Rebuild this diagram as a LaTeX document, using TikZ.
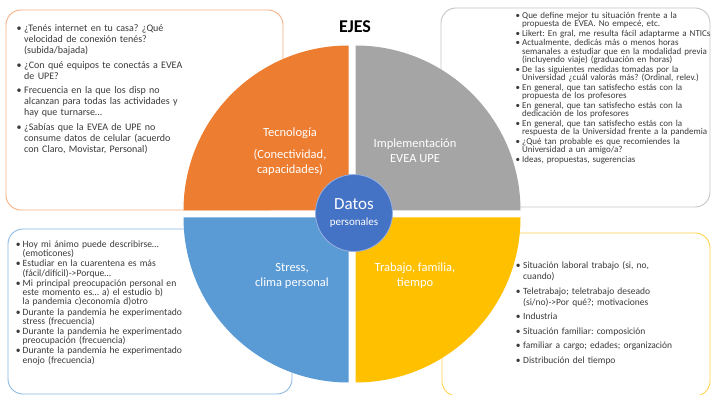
\documentclass[tikz,border=0pt]{standalone}
\usepackage{fontspec}
\setmainfont{Carlito}
\usepackage{enumitem}
\usepackage{tikz}

\definecolor{ejeorange}{HTML}{ED7D31}
\definecolor{ejegray}{HTML}{A5A5A5}
\definecolor{ejeblue}{HTML}{5B9BD5}
\definecolor{ejeyellow}{HTML}{FFC000}
\definecolor{datosblue}{HTML}{4472C4}
\definecolor{textgray}{HTML}{3A3A3A}

\setlist[itemize]{leftmargin=6pt, labelsep=2.5pt, topsep=0pt, partopsep=0pt, parsep=0pt, label={\textbullet}}

\begin{document}
\frenchspacing
\begin{tikzpicture}[x=1pt, y=1pt,
    caja/.style={rounded corners=15pt, line width=0.9pt, fill=white},
    eje/.style={text=white, align=center, inner sep=0pt},
    lista/.style={anchor=north west, inner sep=0pt, text=textgray, text width=#1},
    lista/.default=220pt]

\useasboundingbox (0,0) rectangle (711,-395);

% =========================
% Question boxes
% =========================
\draw[caja, draw=ejeorange!60] (6,-10) rectangle (283,-210);
\draw[caja, draw=ejegray!65] (441,-8) rectangle (710,-207);
\draw[caja, draw=ejeblue!70] (8,-229) rectangle (292,-394);
\draw[caja, draw=ejeyellow!70] (442,-233) rectangle (710,-396);

% =========================
% Circle of axes
% =========================
\fill[ejeorange] (348.5,-210.5) -- ++(-165,0) arc[start angle=180, end angle=90, radius=165] -- cycle;
\fill[ejegray] (355.5,-210.5) -- ++(0,165) arc[start angle=90, end angle=0, radius=165] -- cycle;
\fill[ejeblue] (348.5,-217.5) -- ++(-165,0) arc[start angle=180, end angle=270, radius=165] -- cycle;
\fill[ejeyellow] (355.5,-217.5) -- ++(165,0) arc[start angle=0, end angle=-90, radius=165] -- cycle;

% Center
\node[circle, minimum size=77pt, inner sep=0pt, fill=datosblue, draw=datosblue!55!white, line width=0.8pt] (datos) at (354,-213) {};
\node[text=white, font=\fontsize{17}{17}\selectfont] (datostit) at (354,-204) {Datos};
\node[text=white, font=\fontsize{11}{11}\selectfont] (datossub) at (354,-223) {personales};

% Title
\node[font=\bfseries\fontsize{18}{18}\selectfont] (ejes) at (355,-27) {EJES};

% Axis labels
\node[eje, font=\fontsize{12.5}{15}\selectfont] (tec) at (290,-133) {Tecnología};
\node[eje, font=\fontsize{12.5}{15}\selectfont] (tecsub) at (290,-162.5) {(Conectividad,\\capacidades)};
\node[eje, font=\fontsize{12.5}{15}\selectfont] (impl) at (415,-150.5) {Implementación\\EVEA UPE};
\node[eje, font=\fontsize{12.5}{15}\selectfont] (stress) at (292,-275.5) {Stress,\\clima personal};
\node[eje, font=\fontsize{12.5}{15}\selectfont] (trabajo) at (415,-275.5) {Trabajo, familia,\\tiempo};

% =========================
% Question lists
% =========================
\node[lista, font=\fontsize{10}{11}\selectfont] (qtec) at (18,-20.5) {%
\begin{itemize}[itemsep=3.5pt]
\item ¿Tenés internet en tu casa? ¿Qué\\velocidad de conexión tenés?\\(subida/bajada)
\item ¿Con qué equipos te conectás a EVEA\\de UPE?
\item Frecuencia en la que los disp no\\alcanzan para todas las actividades y\\hay que turnarse\ldots
\item ¿Sabías que la EVEA de UPE no\\consume datos de celular (acuerdo\\con Claro, Movistar, Personal)
\end{itemize}};

\node[lista, font=\fontsize{9}{8.6}\selectfont] (qimpl) at (517,-9.5) {%
\begin{itemize}[itemsep=0.8pt, leftmargin=5pt, labelsep=2pt]
\item Que define mejor tu situación frente a la\\propuesta de EVEA. No empecé, etc.
\item Likert: En gral, me resulta fácil adaptarme a NTICs
\item Actualmente, dedicás más o menos horas\\semanales a estudiar que en la modalidad previa\\(incluyendo viaje) (graduación en horas)
\item De las siguientes medidas tomadas por la\\Universidad ¿cuál valorás más? (Ordinal, relev.)
\item En general, que tan satisfecho estás con la\\propuesta de los profesores
\item En general, que tan satisfecho estás con la\\dedicación de los profesores
\item En general, que tan satisfecho estás con la\\respuesta de la Universidad frente a la pandemia
\item ¿Qué tan probable es que recomiendes la\\Universidad a un amigo/a?
\item Ideas, propuestas, sugerencias
\end{itemize}};

\node[lista, font=\fontsize{9.6}{9.3}\selectfont] (qstress) at (17,-238) {%
\begin{itemize}[itemsep=0.8pt, leftmargin=5.5pt, labelsep=2pt]
\item Hoy mi ánimo puede describirse\ldots\\(emoticones)
\item Estudiar en la cuarentena es más\\(fácil/difícil)->Porque\ldots
\item Mi principal preocupación personal en\\este momento es\ldots{} a) el estudio b)\\la pandemia c)economía d)otro
\item Durante la pandemia he experimentado\\stress (frecuencia)
\item Durante la pandemia he experimentado\\preocupación (frecuencia)
\item Durante la pandemia he experimentado\\enojo (frecuencia)
\end{itemize}};

\node[lista, font=\fontsize{9.5}{11}\selectfont] (qtrabajo) at (517,-257.7) {%
\begin{itemize}[itemsep=3.5pt]
\item Situación laboral trabajo (si, no,\\cuando)
\item Teletrabajo; teletrabajo deseado\\(si/no)->Por qué?; motivaciones
\item Industria
\item Situación familiar: composición
\item familiar a cargo; edades; organización
\item Distribución del tiempo
\end{itemize}};

\end{tikzpicture}
\end{document}
